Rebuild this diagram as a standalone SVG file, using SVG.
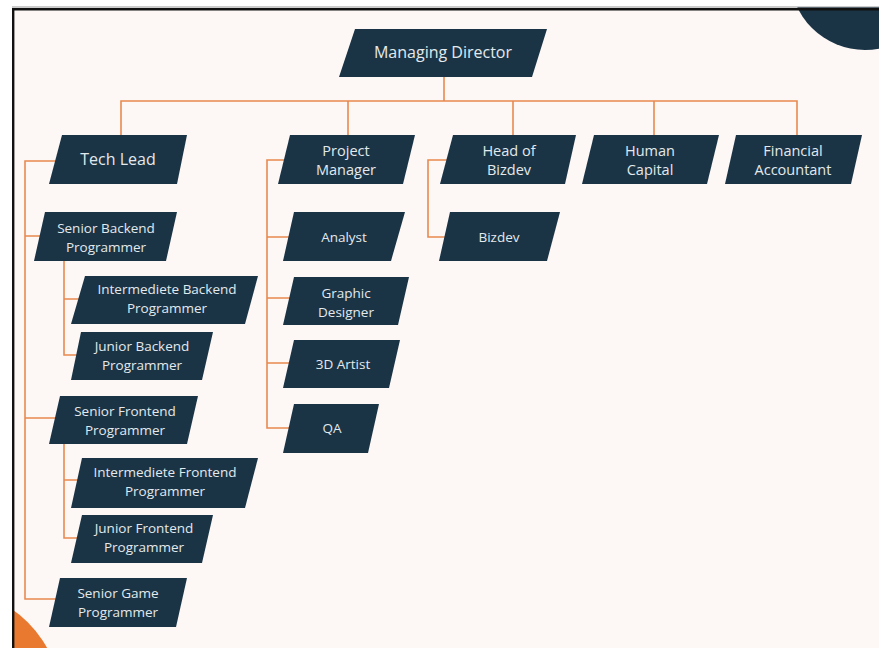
<svg xmlns="http://www.w3.org/2000/svg" width="879" height="648" viewBox="0 0 879 648">
<style>
.box{fill:#1a3446}
.t{font-family:"Open Sans","Liberation Sans",sans-serif;fill:#e3e9ec;text-anchor:middle}
.t1{font-size:16px}
.t1b{font-size:14.5px}
.t2{font-size:13.5px}
.c{fill:none;stroke:#e8894f;stroke-width:1.6}
</style>
<rect x="0" y="0" width="879" height="648" fill="#ffffff"/>
<rect x="12" y="8" width="867" height="640" fill="#fdf8f6"/>
<circle cx="865" cy="-25" r="75" fill="#1a3446"/>
<circle cx="-55" cy="705" r="117" fill="#e8792f"/>
<rect x="0" y="0" width="12" height="648" fill="#ffffff"/>
<rect x="0" y="0" width="879" height="7" fill="#ffffff"/>
<line x1="12" y1="7" x2="879" y2="7" stroke="#999" stroke-width="1"/>
<line x1="12" y1="9.2" x2="879" y2="9.2" stroke="#111" stroke-width="2.4"/>
<line x1="13.2" y1="8" x2="13.2" y2="648" stroke="#111" stroke-width="2.4"/>

<g id="connectors">
<path class="c" d="M444 77V101M121 135V101H797V135M348 101V135M513 101V135M654 101V135"/>
<path class="c" d="M60 161H25V599H60M25 236H45M25 418H60"/>
<path class="c" d="M64 261V355H85M64 299H85"/>
<path class="c" d="M64 444V538H85M64 480H85"/>
<path class="c" d="M290 160H267V428H295M267 237H295M267 298H295M267 363H295"/>
<path class="c" d="M450 160H428V237H452"/>
</g>

<g id="managing-director"><polygon class="box" points="355,29 547,29 532,77 339,77"/><text class="t t1" x="443" y="58">Managing Director</text></g>
<g id="tech-lead"><polygon class="box" points="62,135 187,135 177,184 49,184"/><text class="t t1" x="118" y="165">Tech Lead</text></g>
<g id="project-manager"><polygon class="box" points="290,135 415,135 403,184 278,184"/><text class="t t1b" x="346" y="156">Project</text><text class="t t1b" x="346" y="175">Manager</text></g>
<g id="head-of-bizdev"><polygon class="box" points="453,135 576,135 565,184 440,184"/><text class="t t1b" x="509" y="156">Head of</text><text class="t t1b" x="509" y="175">Bizdev</text></g>
<g id="human-capital"><polygon class="box" points="594,135 719,135 707,184 582,184"/><text class="t t1b" x="650" y="156">Human</text><text class="t t1b" x="650" y="175">Capital</text></g>
<g id="financial-accountant"><polygon class="box" points="736,135 862,135 851,184 725,184"/><text class="t t1b" x="793" y="156">Financial</text><text class="t t1b" x="793" y="175">Accountant</text></g>

<g id="senior-backend"><polygon class="box" points="45,212 177,212 166,261 34,261"/><text class="t t2" x="106" y="233">Senior Backend</text><text class="t t2" x="106" y="252">Programmer</text></g>
<g id="intermediete-backend"><polygon class="box" points="85,276 258,276 245,324 71,324"/><text class="t t2" x="167" y="294">Intermediete Backend</text><text class="t t2" x="167" y="313">Programmer</text></g>
<g id="junior-backend"><polygon class="box" points="81,332 213,332 202,380 71,380"/><text class="t t2" x="142" y="351">Junior Backend</text><text class="t t2" x="142" y="370">Programmer</text></g>
<g id="senior-frontend"><polygon class="box" points="60,396 198,396 187,444 49,444"/><text class="t t2" x="125" y="416">Senior Frontend</text><text class="t t2" x="125" y="435">Programmer</text></g>
<g id="intermediete-frontend"><polygon class="box" points="82,458 258,458 245,508 71,508"/><text class="t t2" x="165" y="477">Intermediete Frontend</text><text class="t t2" x="165" y="496">Programmer</text></g>
<g id="junior-frontend"><polygon class="box" points="82,515 213,515 202,563 71,563"/><text class="t t2" x="144" y="533">Junior Frontend</text><text class="t t2" x="144" y="552">Programmer</text></g>
<g id="senior-game"><polygon class="box" points="60,578 187,578 176,627 49,627"/><text class="t t2" x="118" y="598">Senior Game</text><text class="t t2" x="118" y="617">Programmer</text></g>

<g id="analyst"><polygon class="box" points="294,212 405,212 391,261 283,261"/><text class="t t2" x="344" y="242">Analyst</text></g>
<g id="graphic-designer"><polygon class="box" points="294,277 409,277 398,325 283,325"/><text class="t t2" x="346" y="298">Graphic</text><text class="t t2" x="346" y="317">Designer</text></g>
<g id="3d-artist"><polygon class="box" points="294,340 400,340 389,388 283,388"/><text class="t t2" x="343" y="369">3D Artist</text></g>
<g id="qa"><polygon class="box" points="294,404 379,404 368,453 283,453"/><text class="t t2" x="332" y="433">QA</text></g>
<g id="bizdev"><polygon class="box" points="450,212 560,212 547,261 439,261"/><text class="t t2" x="499" y="242">Bizdev</text></g>
</svg>
